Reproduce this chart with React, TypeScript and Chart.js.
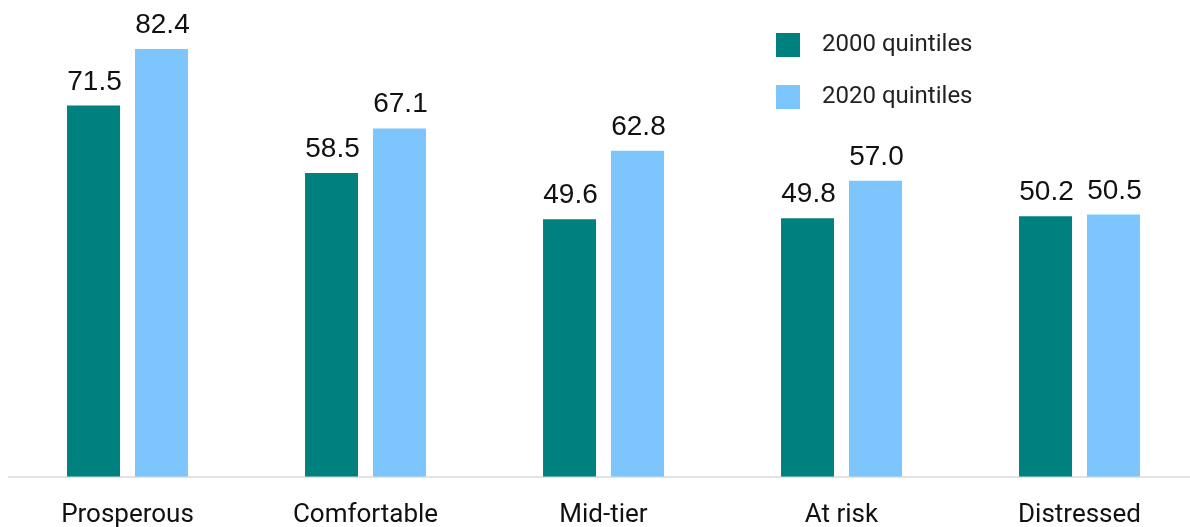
import React, { useEffect, useRef } from "react";
import { Chart, registerables } from "chart.js";

Chart.register(...registerables);

const categories = ["Prosperous", "Comfortable", "Mid-tier", "At risk", "Distressed"];
const series2000 = [71.5, 58.5, 49.6, 49.8, 50.2];
const series2020 = [82.4, 67.1, 62.8, 57.0, 50.5];
const seriesLabels = ["2000 quintiles", "2020 quintiles"];
const colors = ["#00807E", "#7CC5FD"];

const valueLabels = {
  id: "valueLabels",
  afterDatasetsDraw(chart: any) {
    const ctx = chart.ctx;
    ctx.save();
    ctx.font = '28px "Liberation Sans", Arial, sans-serif';
    ctx.fillStyle = "#111";
    ctx.textAlign = "center";
    ctx.textBaseline = "alphabetic";
    chart.data.datasets.forEach((ds: any, i: number) => {
      const meta = chart.getDatasetMeta(i);
      meta.data.forEach((bar: any, j: number) => {
        const v = ds.data[j] as number;
        ctx.fillText(v.toFixed(1), bar.x + 1, bar.y - 16);
      });
    });
    ctx.restore();
  },
};

const customLegend = {
  id: "customLegend",
  afterDraw(chart: any) {
    const ctx = chart.ctx;
    ctx.save();
    chart.data.datasets.forEach((ds: any, i: number) => {
      const y = 33 + i * 52;
      ctx.fillStyle = ds.backgroundColor;
      ctx.fillRect(776, y, 24, 24);
      ctx.fillStyle = "#222";
      ctx.font = '24px Roboto, "Noto Sans", sans-serif';
      ctx.textAlign = "left";
      ctx.textBaseline = "alphabetic";
      ctx.fillText(ds.label, 822, y + 18);
    });
    ctx.restore();
  },
};

export default function App() {
  const ref = useRef<HTMLCanvasElement | null>(null);
  useEffect(() => {
    if (!ref.current) return;
    const chart = new Chart(ref.current, {
      type: "bar",
      data: {
        labels: categories,
        datasets: [
          { label: seriesLabels[0], data: series2000, backgroundColor: colors[0], borderWidth: 0 },
          { label: seriesLabels[1], data: series2020, backgroundColor: colors[1], borderWidth: 0 },
        ],
      },
      options: {
        animation: false,
        responsive: false,
        maintainAspectRatio: false,
        layout: { padding: { left: 8.5, right: 1.5, top: 9.5, bottom: 10 } },
        plugins: { legend: { display: false }, tooltip: { enabled: false } },
        datasets: { bar: { categoryPercentage: 0.571, barPercentage: 0.78 } },
        scales: {
          x: {
            grid: { display: false, drawTicks: false },
            border: { display: true, color: "#e3e3e3", width: 2 },
            ticks: {
              color: "#111",
              font: { family: 'Roboto, "Noto Sans", sans-serif', size: 26, lineHeight: 1.2 },
              padding: 23,
              maxRotation: 0,
            },
          },
          y: { display: false, min: 0, max: 90 },
        },
      },
      plugins: [valueLabels, customLegend],
    });
    return () => chart.destroy();
  }, []);
  return (
    <div style={{ position: "fixed", left: 0, top: 0, width: 1190, height: 527, overflow: "hidden", background: "#fff" }}>
      <canvas ref={ref} width={1200} height={564} style={{ display: "block", width: 1200, height: 564 }} />
    </div>
  );
}
